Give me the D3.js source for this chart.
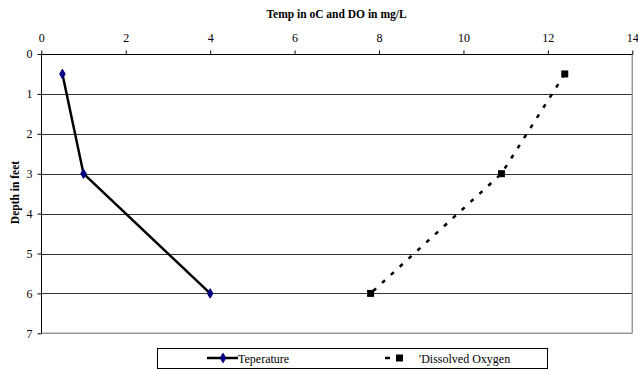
<!DOCTYPE html>
<html><head><meta charset="utf-8">
<script src="https://cdn.jsdelivr.net/npm/d3@7"></script>
<style>body{margin:0;background:#fff}svg{display:block}</style>
</head><body>
<script>
const xTicks = [0, 2, 4, 6, 8, 10, 12, 14];
const yTicks = [0, 1, 2, 3, 4, 5, 6, 7];
const tempDepth = [0.5, 3, 6];
const tempValues = [0.5, 1, 4];
const doDepth = [0.5, 3, 6];
const doValues = [12.4, 10.9, 7.8];
const seriesNames = ["Teperature", "'Dissolved Oxygen"];
const xTitle = "Temp in oC and DO in mg/L";
const yTitle = "Depth in feet";

const FONT = "Liberation Serif";
const W = 638, H = 371;
const svg = d3.select("body").append("svg").attr("width", W).attr("height", H).attr("font-family", FONT);
const x = d3.scaleLinear().domain([0, 14]).range([41.3, 632.3]);
const y = d3.scaleLinear().domain([0, 7]).range([54, 333.3]);

// gridlines
svg.append("g").selectAll("line").data(yTicks.filter(d => d > 0 && d < 7)).join("line")
  .attr("x1", x(0)).attr("x2", x(14)).attr("y1", d => Math.round(y(d)) + 0.5).attr("y2", d => Math.round(y(d)) + 0.5)
  .attr("stroke", "#333").attr("stroke-width", 1);
// plot border right & bottom
svg.append("line").attr("x1", x(14)).attr("x2", x(14)).attr("y1", y(0)).attr("y2", y(7)).attr("stroke", "#999").attr("stroke-width", 1.5);
svg.append("line").attr("x1", x(0)).attr("x2", x(14)).attr("y1", y(7)).attr("y2", y(7)).attr("stroke", "#999").attr("stroke-width", 1.5);

// axes
const xAxis = d3.axisTop(x).tickValues(xTicks).tickSize(4).tickFormat(d3.format("d"));
const gx = svg.append("g").attr("transform", `translate(0,${Math.round(y(0)) + 0.5})`).call(xAxis).attr("font-family", FONT).attr("font-size", 12);
gx.select(".domain").attr("stroke", "#000").attr("d", `M${x(0)},0H${x(14)}`);
gx.selectAll(".tick line").attr("stroke", "#000");
gx.selectAll("text").attr("fill", "#000").attr("y", -13);

const yAxis = d3.axisLeft(y).tickValues(yTicks).tickSize(4).tickFormat(d3.format("d"));
const gy = svg.append("g").attr("transform", `translate(${Math.round(x(0)) + 0.5},0)`).call(yAxis).attr("font-family", FONT).attr("font-size", 12);
gy.select(".domain").attr("stroke", "#000").attr("d", `M0,${y(0)}V${y(7)}`);
gy.selectAll(".tick line").attr("stroke", "#000");
gy.selectAll("text").attr("fill", "#000").attr("x", -9);

// titles
svg.append("text").attr("x", 336.5).attr("y", 18).attr("text-anchor", "middle")
  .attr("font-size", 11.5).attr("font-weight", "bold").text(xTitle);
svg.append("text").attr("transform", `translate(19,192.5) rotate(-90)`).attr("text-anchor", "middle")
  .attr("font-size", 11.5).attr("font-weight", "bold").text(yTitle);

// series
const tempData = tempValues.map((v, i) => [v, tempDepth[i]]);
const doData = doValues.map((v, i) => [v, doDepth[i]]);
const line = d3.line().x(d => x(d[0])).y(d => y(d[1]));
svg.append("path").datum(tempData).attr("d", line).attr("fill", "none").attr("stroke", "#000").attr("stroke-width", 2.5);
svg.append("path").datum(doData).attr("d", line).attr("fill", "none").attr("stroke", "#000").attr("stroke-width", 2.5).attr("stroke-dasharray", "4,8");

const diamond = d3.symbol().type(d3.symbolDiamond).size(26);
svg.append("g").selectAll("path").data(tempData).join("path")
  .attr("transform", d => `translate(${x(d[0])},${y(d[1])})`).attr("d", diamond).attr("fill", "#000080").attr("stroke", "#000080");
svg.append("g").selectAll("rect").data(doData).join("rect")
  .attr("x", d => x(d[0]) - 3.5).attr("y", d => y(d[1]) - 3.5).attr("width", 7).attr("height", 7).attr("fill", "#000");

// legend
const lg = svg.append("g");
lg.append("rect").attr("x", 157.5).attr("y", 348.5).attr("width", 390).attr("height", 20).attr("fill", "#fff").attr("stroke", "#000").attr("stroke-width", 1);
lg.append("line").attr("x1", 207).attr("x2", 238).attr("y1", 358).attr("y2", 358).attr("stroke", "#000").attr("stroke-width", 2.5);
lg.append("path").attr("transform", "translate(223,358)").attr("d", diamond).attr("fill", "#000080").attr("stroke", "#000080");
lg.append("text").attr("x", 238).attr("y", 362.5).attr("font-size", 12).text(seriesNames[0]);
lg.append("line").attr("x1", 385).attr("x2", 390).attr("y1", 358).attr("y2", 358).attr("stroke", "#000").attr("stroke-width", 2.5);
lg.append("rect").attr("x", 396).attr("y", 354.5).attr("width", 7).attr("height", 7).attr("fill", "#000");
lg.append("text").attr("x", 419).attr("y", 362.5).attr("font-size", 12).text(seriesNames[1]);
</script>
</body></html>
